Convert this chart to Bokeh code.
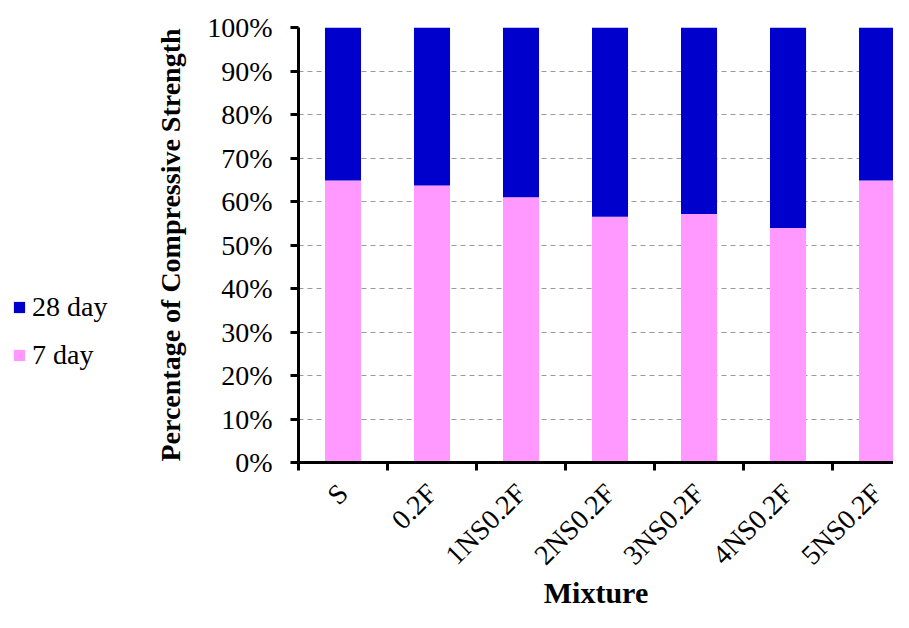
import math
from bokeh.plotting import figure
from bokeh.layouts import row
from bokeh.models import (Range1d, FixedTicker, NumeralTickFormatter, Legend, LegendItem)
from bokeh.embed import file_html
from bokeh.resources import INLINE

# ---- data ----
mixtures = ["S", "0.2F", "1NS0.2F", "2NS0.2F", "3NS0.2F", "4NS0.2F", "5NS0.2F"]
day7_pct = [64.8, 63.7, 61.0, 56.5, 57.1, 53.9, 64.8]
day28_pct = [35.2, 36.3, 39.0, 43.5, 42.9, 46.1, 35.2]
y_ticks_pct = [0, 10, 20, 30, 40, 50, 60, 70, 80, 90, 100]
series_labels = ["7 day", "28 day"]

PINK = "#FF99FF"
BLUE = "#0000CC"
FONT = "Liberation Serif"
H = 612
LEG_W = 140

xs = [i + 0.5 for i in range(len(mixtures))]
src = dict(x=xs,
           d7=[v / 100 for v in day7_pct],
           d28=[v / 100 for v in day28_pct])

# ---------------- main chart ----------------
p = figure(width=893 - LEG_W, height=H, output_backend="svg", toolbar_location=None,
           x_range=Range1d(0, 6.685), y_range=Range1d(0, 1))
p.min_border_left = 298 - LEG_W
p.min_border_right = 0
p.min_border_top = 27
p.min_border_bottom = 149
p.outline_line_color = None
p.background_fill_color = "white"
p.border_fill_color = "white"

rs = p.vbar_stack(["d7", "d28"], x="x", width=0.405, source=src,
                  color=[PINK, BLUE], line_color=None)

p.xgrid.grid_line_color = None
p.ygrid.grid_line_color = "#9A9A9A"
p.ygrid.grid_line_dash = "5 4"
p.ygrid.grid_line_width = 1.2
p.ygrid.ticker = FixedTicker(ticks=[t / 100 for t in y_ticks_pct])

ya = p.yaxis[0]
ya.ticker = FixedTicker(ticks=[t / 100 for t in y_ticks_pct])
ya.formatter = NumeralTickFormatter(format="0%")
ya.axis_line_width = 3
ya.axis_line_color = "black"
ya.major_tick_line_width = 3
ya.major_tick_out = 8
ya.major_tick_in = 0
ya.minor_tick_line_color = None
ya.major_label_text_font = FONT
ya.major_label_text_font_size = "28px"
ya.major_label_text_color = "black"
ya.major_label_standoff = 18
ya.axis_label = "Percentage of Compressive Strength"
ya.axis_label_text_font = FONT
ya.axis_label_text_font_style = "bold"
ya.axis_label_text_font_size = "28px"
ya.axis_label_text_color = "black"
ya.axis_label_standoff = 18

xa = p.xaxis[0]
xa.ticker = FixedTicker(ticks=xs, minor_ticks=list(range(len(mixtures) + 1)))
xa.major_label_overrides = {x: m for x, m in zip(xs, mixtures)}
xa.major_label_orientation = math.pi / 4
xa.axis_line_width = 3
xa.axis_line_color = "black"
xa.major_tick_line_color = None
xa.major_tick_out = 0
xa.major_tick_in = 0
xa.minor_tick_line_width = 3
xa.minor_tick_line_color = "black"
xa.minor_tick_out = 8
xa.minor_tick_in = 0
xa.major_label_text_font = FONT
xa.major_label_text_font_size = "28px"
xa.major_label_text_color = "black"
xa.major_label_standoff = 18
xa.axis_label = "Mixture"
xa.axis_label_text_font = FONT
xa.axis_label_text_font_style = "bold"
xa.axis_label_text_font_size = "30px"
xa.axis_label_text_color = "black"
xa.axis_label_standoff = -8

# ---------------- legend panel (left) ----------------
# the same stacked bars, drawn off-range, only to give the legend its swatches
lg = figure(width=LEG_W, height=H, output_backend="svg", toolbar_location=None,
            x_range=Range1d(-20, -19), y_range=Range1d(0, 1),
            x_axis_location=None, y_axis_location=None)
lg.min_border = 0
lg.outline_line_color = None
lg.xgrid.grid_line_color = None
lg.ygrid.grid_line_color = None
lrs = lg.vbar_stack(["d7", "d28"], x="x", width=0.405, source=src,
                    color=[PINK, BLUE], line_color=None)

legend = Legend(items=[LegendItem(label=series_labels[1], renderers=[lrs[1]]),
                       LegendItem(label=series_labels[0], renderers=[lrs[0]])],
                location=(12, 91))
legend.glyph_width = 14
legend.glyph_height = 14
legend.label_text_font = FONT
legend.label_text_font_size = "28px"
legend.label_text_color = "black"
legend.label_standoff = 6
legend.spacing = 16
legend.padding = 0
legend.margin = 0
legend.border_line_color = None
legend.background_fill_alpha = 0
lg.add_layout(legend)

layout = row(lg, p)
open("out.html", "w").write(file_html(layout, INLINE))
